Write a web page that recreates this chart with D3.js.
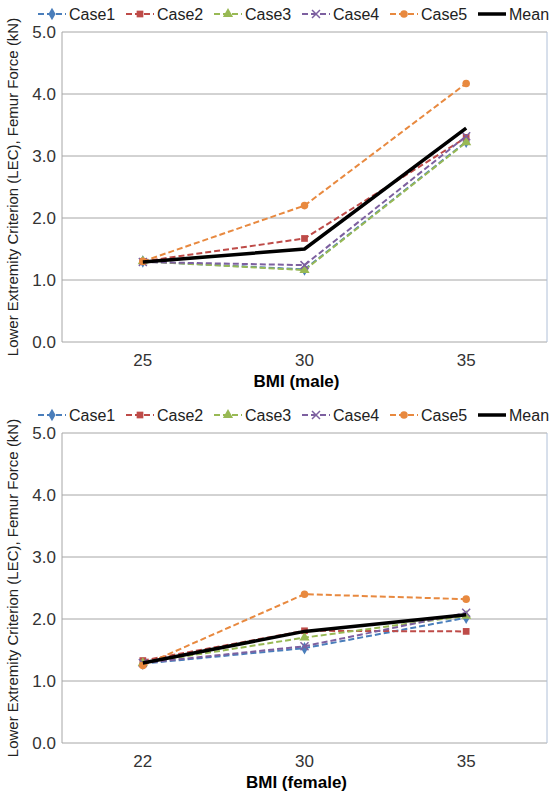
<!DOCTYPE html>
<html><head><meta charset="utf-8">
<script src="https://cdn.jsdelivr.net/npm/d3@7"></script>
<style>body{margin:0;background:#fff;font-family:Arial,"Liberation Sans",sans-serif}</style>
</head><body><svg id="c" width="551" height="800"></svg>
<script>
// series names and styles
const seriesNames = ['Case1', 'Case2', 'Case3', 'Case4', 'Case5', 'Mean'];
const colors = ['#4a7ebb', '#be4b48', '#98b954', '#7d60a0', '#e8893f', '#000'];
const symbols = ['diamond', 'square', 'triangle', 'x', 'circle', null];

const maleBMI = ['25', '30', '35'];
const maleValues = [
    [1.3, 1.17, 3.23],
    [1.3, 1.67, 3.3],
    [1.3, 1.16, 3.22],
    [1.29, 1.24, 3.32],
    [1.3, 2.2, 4.17],
    [1.29, 1.5, 3.45]
];
const femaleBMI = ['22', '30', '35'];
const femaleValues = [
    [1.28, 1.53, 2.02],
    [1.33, 1.81, 1.8],
    [1.29, 1.7, 2.05],
    [1.29, 1.56, 2.1],
    [1.25, 2.4, 2.32],
    [1.29, 1.8, 2.07]
];
const yTicks = [0, 1, 2, 3, 4, 5];

const svg = d3.select('#c');

function drawPanel(top, cats, values, xTitle) {
    const plot = {left: 62, right: 547, top: top + 32, bottom: top + 342};
    const x = d3.scalePoint().domain(cats).range([plot.left, plot.right]).padding(0.5);
    const y = d3.scaleLinear().domain([0, 5]).range([plot.bottom, plot.top]);
    const g = svg.append('g');

    // grid
    g.selectAll('line.grid').data(yTicks).join('line')
        .attr('x1', plot.left).attr('x2', plot.right)
        .attr('y1', d => y(d)).attr('y2', d => y(d))
        .attr('stroke', '#a6a6a6').attr('stroke-width', 1);
    g.append('line').attr('x1', plot.right).attr('x2', plot.right)
        .attr('y1', plot.top).attr('y2', plot.bottom).attr('stroke', '#b0c0d8');
    g.append('line').attr('x1', plot.left).attr('x2', plot.left)
        .attr('y1', plot.top).attr('y2', plot.bottom).attr('stroke', '#a6a6a6');

    g.selectAll('text.yt').data(yTicks).join('text')
        .attr('x', plot.left - 6).attr('y', d => y(d) + 6)
        .attr('text-anchor', 'end').attr('font-size', 17).attr('fill', '#333')
        .text(d => d.toFixed(1));
    g.selectAll('text.xt').data(cats).join('text')
        .attr('x', d => x(d)).attr('y', plot.bottom + 24)
        .attr('text-anchor', 'middle').attr('font-size', 17).attr('fill', '#333')
        .text(d => d);
    g.append('text').attr('x', (plot.left + plot.right) / 2 - 8).attr('y', plot.bottom + 45)
        .attr('text-anchor', 'middle').attr('font-size', 17).attr('font-weight', 'bold')
        .text(xTitle);
    g.append('text')
        .attr('transform', `translate(18,${(plot.top + plot.bottom) / 2}) rotate(-90)`)
        .attr('text-anchor', 'middle').attr('font-size', 15).attr('fill', '#222')
        .text('Lower Extremity Criterion (LEC), Femur Force (kN)');

    const line = d3.line().x((d, i) => x(cats[i])).y(d => y(d));
    values.forEach((vals, s) => {
        const mean = s === 5;
        g.append('path').datum(vals).attr('d', line).attr('fill', 'none')
            .attr('stroke', colors[s]).attr('stroke-width', mean ? 3.5 : 2)
            .attr('stroke-dasharray', mean ? null : '6,3');
        if (!mean) {
            vals.forEach((v, i) => drawMarker(g, x(cats[i]), y(v), s));
        }
    });

    // legend
    const lg = svg.append('g');
    const lx = [38, 126, 214, 302, 390, 478];
    seriesNames.forEach((n, s) => {
        const ly = top + 14;
        lg.append('line').attr('x1', lx[s]).attr('x2', lx[s] + 28).attr('y1', ly).attr('y2', ly)
            .attr('stroke', colors[s]).attr('stroke-width', s === 5 ? 3.5 : 2)
            .attr('stroke-dasharray', s === 5 ? null : '6,3');
        if (s < 5) drawMarker(lg, lx[s] + 14, ly, s);
        lg.append('text').attr('x', lx[s] + 31).attr('y', ly + 6)
            .attr('font-size', 16).attr('fill', '#222').text(n);
    });
}

function drawMarker(g, cx, cy, s) {
    const c = colors[s];
    if (symbols[s] === 'x') {
        g.append('path').attr('d', `M${cx - 4},${cy - 4}L${cx + 4},${cy + 4}M${cx - 4},${cy + 4}L${cx + 4},${cy - 4}`)
            .attr('stroke', c).attr('stroke-width', 1.5);
        return;
    }
    const type = {diamond: d3.symbolDiamond, square: d3.symbolSquare, triangle: d3.symbolTriangle, circle: d3.symbolCircle}[symbols[s]];
    g.append('path').attr('d', d3.symbol(type, 45)())
        .attr('transform', `translate(${cx},${cy})`).attr('fill', c);
}

drawPanel(0, maleBMI, maleValues, 'BMI (male)');
drawPanel(401, femaleBMI, femaleValues, 'BMI (female)');
</script></body></html>
